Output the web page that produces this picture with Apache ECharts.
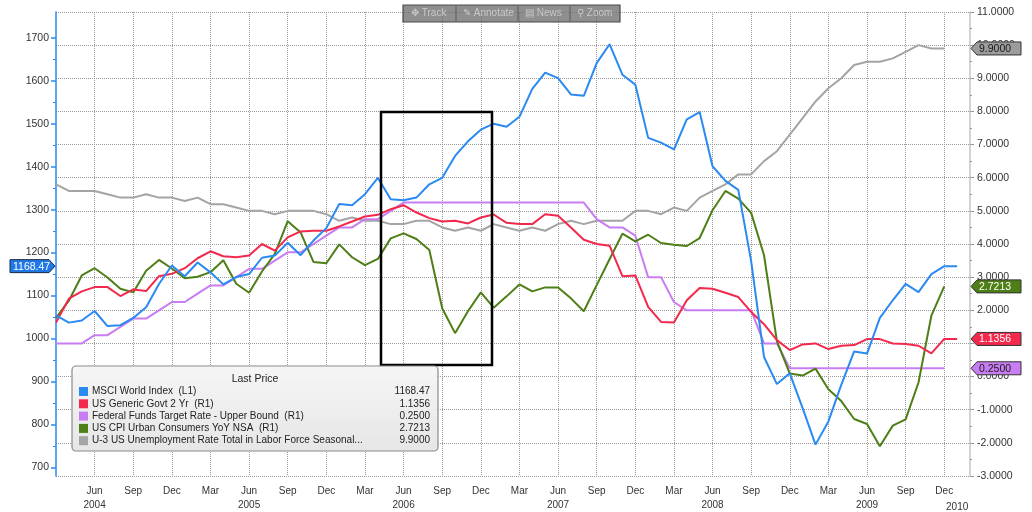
<!DOCTYPE html>
<html><head><meta charset="utf-8">
<script src="https://cdn.jsdelivr.net/npm/echarts@6/dist/echarts.min.js"></script>
<style>html,body{margin:0;padding:0;background:#fff}#c{width:1032px;height:512px}</style>
</head><body><div id="c"></div>
<script>
const months = [
 '2004-03','2004-04','2004-05','2004-06','2004-07','2004-08','2004-09','2004-10','2004-11','2004-12',
 '2005-01','2005-02','2005-03','2005-04','2005-05','2005-06','2005-07','2005-08','2005-09','2005-10','2005-11','2005-12',
 '2006-01','2006-02','2006-03','2006-04','2006-05','2006-06','2006-07','2006-08','2006-09','2006-10','2006-11','2006-12',
 '2007-01','2007-02','2007-03','2007-04','2007-05','2007-06','2007-07','2007-08','2007-09','2007-10','2007-11','2007-12',
 '2008-01','2008-02','2008-03','2008-04','2008-05','2008-06','2008-07','2008-08','2008-09','2008-10','2008-11','2008-12',
 '2009-01','2009-02','2009-03','2009-04','2009-05','2009-06','2009-07','2009-08','2009-09','2009-10','2009-11','2009-12',
 '2010-01','2010-02'];
const monthNames = {'01':'Jan','02':'Feb','03':'Mar','04':'Apr','05':'May','06':'Jun','07':'Jul','08':'Aug','09':'Sep','10':'Oct','11':'Nov','12':'Dec'};

const msciWorld = [
 1054,1037,1042,1064,1029,1031,1048,1073,1127,1170,
 1145,1177,1154,1126,1143,1150,1188,1193,1223,1194,1228,1257,
 1313,1310,1336,1374,1324,1322,1328,1359,1374,1425,1459,1486,
 1500,1493,1516,1581,1619,1606,1568,1565,1641,1685,1614,1591,
 1467,1456,1440,1510,1527,1401,1367,1346,1180,957,894,919,
 838,753,807,892,970,965,1048,1089,1127,1108,1150,1168.47,
 1168.47,null];
const govt2y = [
 1.63,2.35,2.57,2.70,2.70,2.43,2.63,2.58,3.03,3.10,
 3.27,3.57,3.78,3.63,3.60,3.65,4.00,3.80,4.20,4.38,4.40,4.40,
 4.53,4.68,4.83,4.88,5.05,5.17,4.95,4.78,4.68,4.70,4.62,4.80,
 4.89,4.64,4.60,4.60,4.90,4.85,4.50,4.13,4.00,3.95,3.03,3.05,
 2.10,1.65,1.63,2.30,2.67,2.65,2.53,2.40,1.95,1.58,1.10,0.80,
 0.97,1.00,0.83,0.93,0.95,1.13,1.13,1.00,0.98,0.93,0.70,1.1356,
 1.1356,null];
const fedFunds = [
 1.0,1.0,1.0,1.25,1.25,1.5,1.75,1.75,2.0,2.25,
 2.25,2.5,2.75,2.75,3.0,3.25,3.25,3.5,3.75,3.75,4.0,4.25,
 4.5,4.5,4.75,4.75,5.0,5.25,5.25,5.25,5.25,5.25,5.25,5.25,
 5.25,5.25,5.25,5.25,5.25,5.25,5.25,5.25,4.75,4.5,4.5,4.25,
 3.0,3.0,2.25,2.0,2.0,2.0,2.0,2.0,2.0,1.0,1.0,0.25,
 0.25,0.25,0.25,0.25,0.25,0.25,0.25,0.25,0.25,0.25,0.25,0.25,
 null,null];
const cpiYoY = [
 1.77,2.29,3.05,3.27,2.99,2.65,2.54,3.19,3.52,3.26,
 2.97,3.01,3.15,3.51,2.80,2.53,3.17,3.70,4.69,4.35,3.46,3.42,
 3.99,3.60,3.36,3.55,4.17,4.32,4.15,3.82,2.06,1.31,1.97,2.54,
 2.08,2.42,2.78,2.57,2.69,2.69,2.36,1.97,2.76,3.54,4.31,4.08,
 4.28,4.03,3.98,3.94,4.18,5.02,5.60,5.37,4.94,3.66,1.07,0.09,
 0.03,0.24,-0.38,-0.74,-1.28,-1.43,-2.10,-1.48,-1.29,-0.18,1.84,2.7213,
 null,null];
const unemployment = [
 5.8,5.6,5.6,5.6,5.5,5.4,5.4,5.5,5.4,5.4,
 5.3,5.4,5.2,5.2,5.1,5.0,5.0,4.9,5.0,5.0,5.0,4.9,
 4.7,4.8,4.7,4.7,4.6,4.6,4.7,4.7,4.5,4.4,4.5,4.4,
 4.6,4.5,4.4,4.5,4.4,4.6,4.7,4.6,4.7,4.7,4.7,5.0,
 5.0,4.9,5.1,5.0,5.4,5.6,5.8,6.1,6.1,6.5,6.8,7.3,
 7.8,8.3,8.7,9.0,9.4,9.5,9.5,9.6,9.8,10.0,9.9,9.9,
 null,null];

const seriesNames = ['MSCI World Index  (L1)','US Generic Govt 2 Yr  (R1)','Federal Funds Target Rate - Upper Bound  (R1)','US CPI Urban Consumers YoY NSA  (R1)','U-3 US Unemployment Rate Total in Labor Force Seasonal...'];
const lastValues = ['1168.47','1.1356','0.2500','2.7213','9.9000'];
const leftTicks = [700,800,900,1000,1100,1200,1300,1400,1500,1600,1700];
const leftMinorTicks = [750,850,950,1050,1150,1250,1350,1450,1550,1650];
const colors = ['#2a8af2','#f2294d','#c87df2','#4e7e16','#a4a4a4'];

const FONT = 'Liberation Sans, Arial, sans-serif';
const isQuarter = (i) => i > 0 && ['03','06','09','12'].includes(months[i].slice(5));

const chart = echarts.init(document.getElementById('c'));
const GL = 56, GR = 62, GT = 12, GB = 34.5;

function lineSeries(name, data, yIdx, color, z) {
  return {name, type:'line', data, yAxisIndex:yIdx, showSymbol:false, symbol:'none',
    lineStyle:{color, width:2}, itemStyle:{color}, z, animation:false, connectNulls:false};
}

chart.setOption({
  animation:false,
  backgroundColor:'#ffffff',
  grid:{left:GL, right:GR, top:GT, bottom:GB, containLabel:false},
  xAxis:{type:'category', data:months, boundaryGap:false,
    axisLine:{show:false},
    axisTick:{show:true, interval:(i)=>isQuarter(i), length:4, lineStyle:{color:'#aaa', type:'dotted'}},
    axisLabel:{interval:(i)=>isQuarter(i), hideOverlap:false, color:'#333', fontFamily:FONT, fontSize:10, lineHeight:14, margin:8,
      formatter:(v)=>{const m=v.slice(5), y=v.slice(0,4); return m==='06'? monthNames[m]+'\n'+y : monthNames[m];}},
    splitLine:{show:true, interval:(i)=>isQuarter(i), lineStyle:{color:'#9a9a9a', type:'dotted', width:1}}
  },
  yAxis:[
    {type:'value', position:'left', min:680, max:1760,
      axisLine:{show:true, lineStyle:{color:'#2a8af2', width:1.5}},
      axisTick:{show:true, customValues:leftTicks, length:5, lineStyle:{color:'#2a8af2', width:1.5}},
      axisLabel:{customValues:leftTicks, formatter:(v)=>String(v), color:'#333', fontFamily:FONT, fontSize:10.5, margin:7},
      splitLine:{show:false}},
    {type:'value', position:'right', min:-3, max:11, interval:1,
      axisLine:{show:true, lineStyle:{color:'#c4c4c4', width:1.5}},
      axisTick:{show:true, length:4, lineStyle:{color:'#999'}},
      minorTick:{show:true, splitNumber:2, length:2, lineStyle:{color:'#999'}},
      axisLabel:{formatter:(v)=>v.toFixed(4), color:'#333', fontFamily:FONT, fontSize:10.5, margin:7},
      splitLine:{show:true, lineStyle:{color:'#9a9a9a', type:'dotted', width:1}}},
    {type:'value', position:'left', min:680, max:1760,
      axisLine:{show:false},
      axisTick:{show:true, customValues:leftMinorTicks, length:3, lineStyle:{color:'#2a8af2', width:1}},
      axisLabel:{show:false}, splitLine:{show:false}}
  ],
  series:[
    lineSeries(seriesNames[4], unemployment, 1, colors[4], 2),
    lineSeries(seriesNames[2], fedFunds, 1, colors[2], 3),
    lineSeries(seriesNames[3], cpiYoY, 1, colors[3], 4),
    lineSeries(seriesNames[1], govt2y, 1, colors[1], 5),
    lineSeries(seriesNames[0], msciWorld, 0, colors[0], 6)
  ]
});

// overlay graphics: value tags, legend box, annotation frame, toolbar
const g = [];
const xRight = 1032 - GR;
// year label for 2010 (only Jan/Feb of that year are on the axis)
{
  const x = chart.convertToPixel({xAxisIndex:0}, '2010-01');
  g.push({type:'text', z:50, style:{text:'2010', x:x, y:507, fill:'#333', font:'10px '+FONT, textAlign:'center', textVerticalAlign:'middle', align:'center', verticalAlign:'middle'}});
}
const tagDefs = [
  {v:9.9, text:lastValues[4], fill:'#9c9c9c', color:'#1a1a1a'},
  {v:2.7213, text:lastValues[3], fill:colors[3], color:'#ffffff'},
  {v:1.1356, text:lastValues[1], fill:colors[1], color:'#ffffff'},
  {v:0.25, text:lastValues[2], fill:colors[2], color:'#1a1a1a'}
];
tagDefs.forEach(t=>{
  const y = chart.convertToPixel({yAxisIndex:1}, t.v);
  const x0 = xRight + 1, w = 50, h = 13;
  g.push({type:'polygon', z:200, shape:{points:[[x0,y],[x0+6,y-h/2],[x0+w,y-h/2],[x0+w,y+h/2],[x0+6,y+h/2]]},
    style:{fill:t.fill, stroke:'#333', lineWidth:1}});
  g.push({type:'text', z:201, style:{text:t.text, x:x0+8, y:y+0.5, fill:t.color, font:'10.5px '+FONT, textAlign:'left', textVerticalAlign:'middle', align:'left', verticalAlign:'middle'}});
});
{
  const y = chart.convertToPixel({yAxisIndex:0}, 1168.47);
  const x1 = GL - 1, w = 45, h = 13;
  g.push({type:'polygon', z:200, shape:{points:[[x1,y],[x1-6,y-h/2],[x1-w,y-h/2],[x1-w,y+h/2],[x1-6,y+h/2]]},
    style:{fill:'#1f78e6', stroke:'#1b2a4a', lineWidth:1}});
  g.push({type:'text', z:201, style:{text:lastValues[0], x:x1-w+3, y:y+0.5, fill:'#fff', font:'10.5px '+FONT, textAlign:'left', textVerticalAlign:'middle', align:'left', verticalAlign:'middle'}});
}
// annotation frame
g.push({type:'rect', z:150, shape:{x:381, y:112, width:111, height:253}, style:{fill:'none', stroke:'#000', lineWidth:2.5}});
// legend box
const LX = 72, LY = 366, LW = 366, LH = 85;
g.push({type:'rect', z:180, shape:{x:LX, y:LY, width:LW, height:LH, r:4},
  style:{fill:new echarts.graphic.LinearGradient(0,0,0,1,[{offset:0,color:'#f6f6f6'},{offset:1,color:'#e6e6e6'}]), stroke:'#8a8a8a', lineWidth:1.2}});
g.push({type:'text', z:181, style:{text:'Last Price', x:LX+LW/2, y:LY+13, fill:'#222', font:'10.5px '+FONT, textAlign:'center', textVerticalAlign:'middle', align:'center', verticalAlign:'middle'}});
seriesNames.forEach((n,i)=>{
  const y = LY + 25.5 + i*12.3;
  g.push({type:'rect', z:181, shape:{x:LX+7, y:y-4.5, width:9, height:9}, style:{fill:colors[i]}});
  g.push({type:'text', z:181, style:{text:n, x:LX+20, y:y, fill:'#222', font:'10px '+FONT, textAlign:'left', textVerticalAlign:'middle', align:'left', verticalAlign:'middle'}});
  g.push({type:'text', z:181, style:{text:lastValues[i], x:LX+LW-8, y:y, fill:'#222', font:'10px '+FONT, textAlign:'right', textVerticalAlign:'middle', align:'right', verticalAlign:'middle'}});
});
// toolbar
g.push({type:'rect', z:180, shape:{x:403, y:5, width:217, height:17}, style:{fill:'rgba(112,112,112,0.78)', stroke:'#4a4a4a', lineWidth:1.2}});
[456,518,570].forEach(x=>g.push({type:'line', z:181, shape:{x1:x,y1:6,x2:x,y2:21}, style:{stroke:'#5a5a5a', lineWidth:1}}));
[['\u2725 Track',411],['\u270E Annotate',463],['\u25A4 News',525],['\u26B2 Zoom',577]].forEach(([t,x])=>{
  g.push({type:'text', z:181, style:{text:t, x:x, y:13.5, fill:'#c9c9c9', font:'10px '+FONT, textAlign:'left', textVerticalAlign:'middle', align:'left', verticalAlign:'middle'}});
});
chart.setOption({graphic:{elements:g}});
</script>
</body></html>
